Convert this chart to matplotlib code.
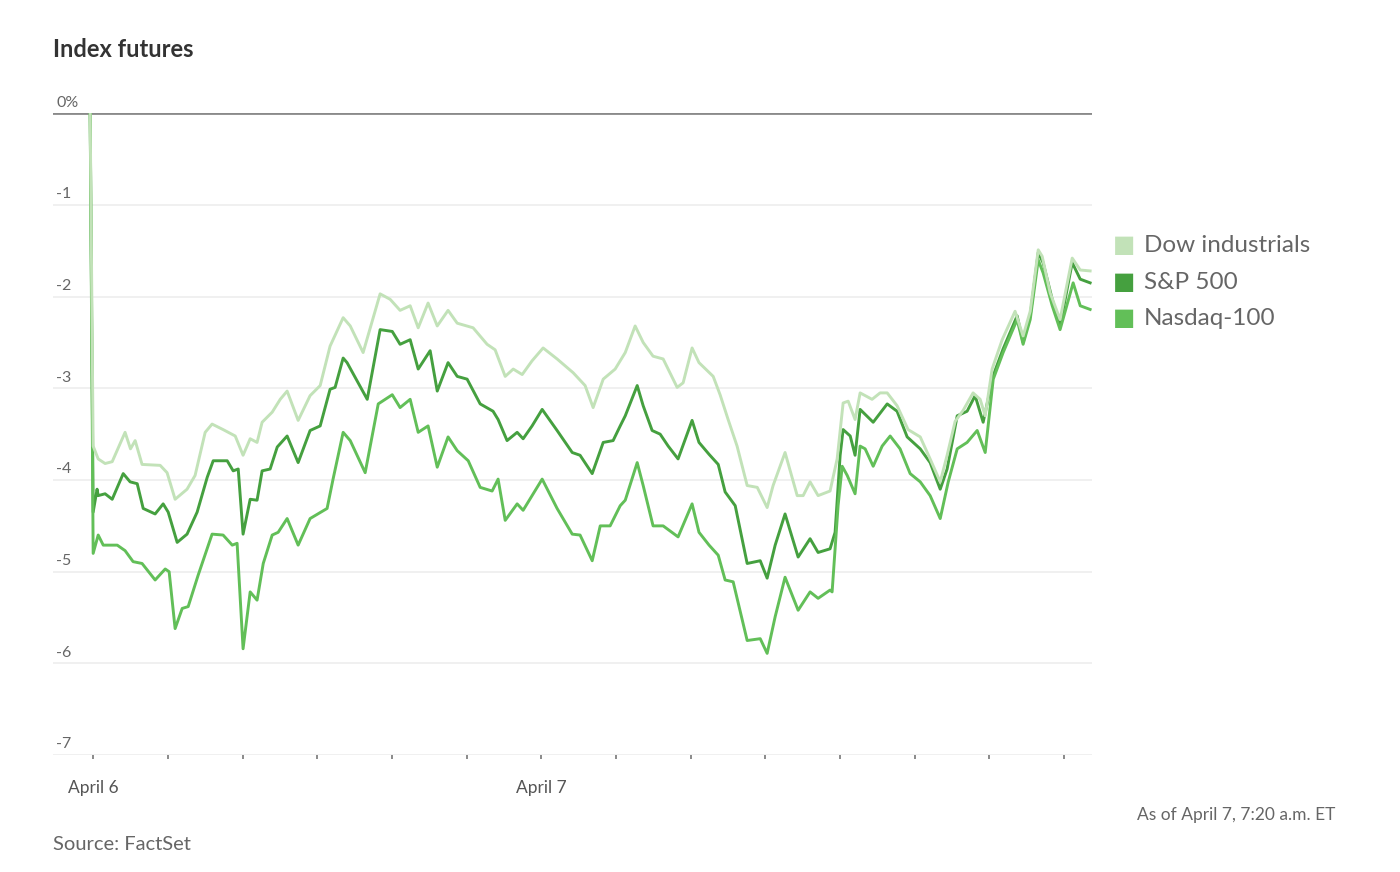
import matplotlib
matplotlib.use('Agg')
import matplotlib.pyplot as plt
import numpy as np

plt.rcParams['font.family'] = ['Lato', 'DejaVu Sans']

# hours since April 6 00:00, percent change
dow_h = [-0.16, 0.0, 0.27, 0.64, 1.02, 1.71, 2.00, 2.25, 2.62, 3.59, 3.96, 4.39, 5.03, 5.46,
         6.00, 6.37, 6.96, 7.61, 8.03, 8.41, 8.78, 9.05, 9.59, 10.02, 10.39, 10.98, 11.62,
         12.16, 12.69, 13.39, 13.77, 14.46, 15.37, 15.91, 16.44, 16.98, 17.41, 17.94, 18.43,
         19.01, 19.50, 20.35, 21.10, 21.53, 22.07, 22.50, 22.98, 23.51, 24.10, 24.85, 25.71,
         26.35, 26.78, 27.32, 27.96, 28.50, 29.03, 29.46, 29.99, 30.53, 31.28, 31.60, 32.08,
         32.45, 33.21, 33.58, 34.01, 34.49, 35.03, 35.57, 36.10, 36.42, 37.06, 37.71, 38.03,
         38.40, 38.83, 39.47, 39.85, 40.17, 40.44, 40.81, 41.08, 41.72, 42.15, 42.53, 43.06,
         43.65, 44.30, 44.83, 45.37, 45.74, 46.17, 46.60, 47.13, 47.51, 47.78, 48.15, 48.69,
         49.38, 49.81, 50.19, 50.62, 50.83, 51.26, 51.79, 52.44, 52.87, 53.40]
dow = [0, -3.63, -3.77, -3.82, -3.80, -3.48, -3.66, -3.57, -3.83, -3.84, -3.92, -4.21, -4.10, -3.95,
       -3.48, -3.39, -3.45, -3.52, -3.73, -3.55, -3.59, -3.37, -3.26, -3.12, -3.03, -3.35, -3.08,
       -2.97, -2.54, -2.23, -2.32, -2.61, -1.97, -2.03, -2.15, -2.10, -2.34, -2.07, -2.32,
       -2.15, -2.29, -2.34, -2.52, -2.58, -2.87, -2.79, -2.85, -2.70, -2.56, -2.68, -2.83,
       -2.97, -3.21, -2.90, -2.79, -2.61, -2.32, -2.50, -2.65, -2.68, -2.99, -2.94, -2.56,
       -2.72, -2.87, -3.07, -3.34, -3.63, -4.06, -4.08, -4.30, -4.06, -3.70, -4.17, -4.17,
       -4.02, -4.17, -4.12, -3.77, -3.16, -3.14, -3.34, -3.05, -3.12, -3.05, -3.05, -3.19,
       -3.45, -3.53, -3.77, -4.02, -3.73, -3.36, -3.24, -3.05, -3.12, -3.30, -2.79, -2.47,
       -2.16, -2.43, -2.16, -1.49, -1.56, -1.96, -2.25, -1.58, -1.71, -1.72]

sp_h = [-0.16, 0.0, 0.21, 0.27, 0.64, 1.02, 1.61, 1.98, 2.36, 2.68, 3.32, 3.75, 4.02, 4.50,
        5.03, 5.57, 6.11, 6.43, 7.18, 7.50, 7.77, 8.03, 8.41, 8.78, 9.05, 9.48, 9.86, 10.39,
        10.98, 11.62, 12.16, 12.69, 12.96, 13.39, 13.60, 14.68, 15.37, 16.02, 16.44, 16.98,
        17.41, 18.05, 18.43, 19.01, 19.50, 20.03, 20.73, 21.42, 21.69, 22.17, 22.71, 23.03,
        23.51, 24.05, 24.85, 25.66, 26.08, 26.73, 27.32, 27.85, 28.23, 28.50, 29.14, 29.46,
        29.94, 30.37, 30.80, 31.33, 32.08, 32.45, 32.99, 33.48, 33.85, 34.39, 35.03, 35.73,
        36.10, 36.53, 37.06, 37.76, 38.40, 38.83, 39.47, 39.74, 40.01, 40.17, 40.55, 40.81,
        41.08, 41.78, 42.53, 43.06, 43.60, 44.30, 44.83, 45.37, 45.74, 46.28, 46.81, 47.24,
        47.67, 48.21, 48.74, 49.49, 49.81, 50.19, 50.62, 50.88, 51.37, 51.79, 52.44, 52.87,
        53.40]
sp500 = [0, -4.35, -4.10, -4.17, -4.15, -4.21, -3.93, -4.02, -4.04, -4.31, -4.37, -4.26, -4.35, -4.68,
         -4.59, -4.35, -3.97, -3.79, -3.79, -3.90, -3.88, -4.59, -4.21, -4.22, -3.90, -3.88, -3.64, -3.52,
         -3.81, -3.46, -3.41, -3.01, -2.99, -2.67, -2.72, -3.12, -2.36, -2.38, -2.52, -2.47,
         -2.79, -2.59, -3.03, -2.72, -2.87, -2.90, -3.17, -3.25, -3.34, -3.57, -3.48, -3.55,
         -3.41, -3.23, -3.46, -3.70, -3.73, -3.93, -3.59, -3.57, -3.41, -3.30, -2.97, -3.19,
         -3.46, -3.50, -3.63, -3.77, -3.35, -3.59, -3.72, -3.83, -4.13, -4.28, -4.91, -4.88,
         -5.07, -4.71, -4.37, -4.84, -4.64, -4.79, -4.75, -4.57, -3.73, -3.45, -3.52, -3.73,
         -3.23, -3.37, -3.17, -3.25, -3.53, -3.66, -3.81, -4.10, -3.88, -3.30, -3.25, -3.08,
         -3.37, -2.86, -2.57, -2.21, -2.50, -2.21, -1.52, -1.63, -2.03, -2.32, -1.63, -1.81,
         -1.85]

nq_h = [-0.16, 0.0, 0.27, 0.54, 1.29, 1.71, 2.14, 2.62, 3.32, 3.86, 4.07, 4.39, 4.77, 5.09,
        5.62, 6.37, 6.96, 7.45, 7.71, 8.03, 8.41, 8.78, 9.11, 9.59, 9.91, 10.39, 10.98, 11.62,
        12.53, 12.85, 13.39, 13.77, 14.57, 15.27, 16.02, 16.44, 16.98, 17.41, 17.94, 18.43,
        19.01, 19.50, 20.09, 20.73, 21.37, 21.69, 22.07, 22.71, 23.03, 23.51, 24.05, 24.85,
        25.66, 26.08, 26.73, 27.16, 27.69, 28.23, 28.50, 29.14, 29.46, 29.99, 30.53, 31.33,
        32.08, 32.45, 32.99, 33.48, 33.85, 34.28, 35.03, 35.73, 36.10, 36.53, 37.06, 37.76,
        38.40, 38.83, 39.47, 39.58, 39.90, 40.12, 40.39, 40.81, 41.08, 41.35, 41.78, 42.26,
        42.69, 43.22, 43.76, 44.30, 44.83, 45.37, 45.80, 46.28, 46.81, 47.35, 47.78, 48.21,
        48.74, 49.49, 49.81, 50.19, 50.62, 50.88, 51.37, 51.79, 52.49, 52.87, 53.40]
nasdaq = [0, -4.80, -4.60, -4.71, -4.71, -4.77, -4.89, -4.91, -5.09, -4.97, -5.00, -5.62, -5.40, -5.38,
          -5.04, -4.59, -4.60, -4.71, -4.69, -5.84, -5.22, -5.31, -4.91, -4.60, -4.57, -4.42, -4.71, -4.42,
          -4.31, -3.99, -3.48, -3.57, -3.92, -3.17, -3.07, -3.21, -3.12, -3.48, -3.41, -3.86,
          -3.53, -3.68, -3.79, -4.08, -4.12, -3.99, -4.44, -4.26, -4.33, -4.17, -3.99, -4.31,
          -4.59, -4.60, -4.88, -4.50, -4.50, -4.28, -4.22, -3.81, -4.06, -4.50, -4.50, -4.62,
          -4.26, -4.57, -4.71, -4.82, -5.09, -5.11, -5.75, -5.73, -5.89, -5.49, -5.06, -5.42,
          -5.22, -5.29, -5.20, -5.22, -4.28, -3.85, -3.95, -4.15, -3.63, -3.66, -3.85, -3.63,
          -3.52, -3.66, -3.93, -4.02, -4.17, -4.42, -4.02, -3.66, -3.59, -3.46, -3.70, -2.90,
          -2.61, -2.25, -2.52, -2.25, -1.60, -1.74, -2.10, -2.36, -1.85, -2.10, -2.14]

names = ['Dow industrials', 'S&P 500', 'Nasdaq-100']
colors = ['#c2e2b8', '#45a03f', '#62bf58']
y_ticks = [0, -1, -2, -3, -4, -5, -6, -7]
y_labels = ['0%', '-1', '-2', '-3', '-4', '-5', '-6', '-7']

fig = plt.figure(figsize=(14, 8.72), dpi=100)
ax = fig.add_axes([0.038, 0.134, 0.742, 0.7362])

for v in y_ticks[1:]:
    ax.axhline(v, color='#eeeeee', lw=1.2, zorder=0)
ax.axhline(0, color='#8a8a8a', lw=2, zorder=1)

ax.plot(sp_h, sp500, color=colors[1], lw=2.1, zorder=2, solid_joinstyle='round')
ax.plot(nq_h, nasdaq, color=colors[2], lw=2.1, zorder=3, solid_joinstyle='round')
ax.plot(dow_h, dow, color=colors[0], lw=2.1, zorder=4, solid_joinstyle='round')

ax.set_xlim(-2.14, 53.5)
ax.set_ylim(-7, 0)
for s in ax.spines.values():
    s.set_visible(False)
ax.set_yticks([])
ax.set_xticks(np.arange(0, 53, 4))
ax.set_xticklabels(['April 6' if t == 0 else 'April 7' if t == 24 else '' for t in range(0, 53, 4)])
ax.tick_params(axis='x', length=3, width=1.2, color='#777777', labelsize=12.5,
               labelcolor='#555555', pad=15)

for v, lab in zip(y_ticks, y_labels):
    ax.text(0.003, v + 0.04, lab, transform=ax.get_yaxis_transform(), ha='left', va='bottom',
            fontsize=11.5, color='#666666')

fig.text(0.038, 0.943, 'Index futures', fontsize=17, fontweight='bold', color='#333333',
         ha='left', va='center')

for i, (nm, c) in enumerate(zip(names, colors)):
    yy = 0.718 - i * 0.0415
    fig.text(0.803, yy, '\u25a0', fontsize=17, color=c, ha='center', va='center')
    fig.text(0.817, yy, nm, fontsize=17.5, color='#666666', ha='left', va='center')

fig.text(0.954, 0.065, 'As of April 7, 7:20 a.m. ET', fontsize=12.5, color='#666666',
         ha='right', va='center')
fig.text(0.038, 0.031, 'Source: FactSet', fontsize=14.5, color='#666666', ha='left', va='center')

fig.savefig('out.png', dpi=100)
